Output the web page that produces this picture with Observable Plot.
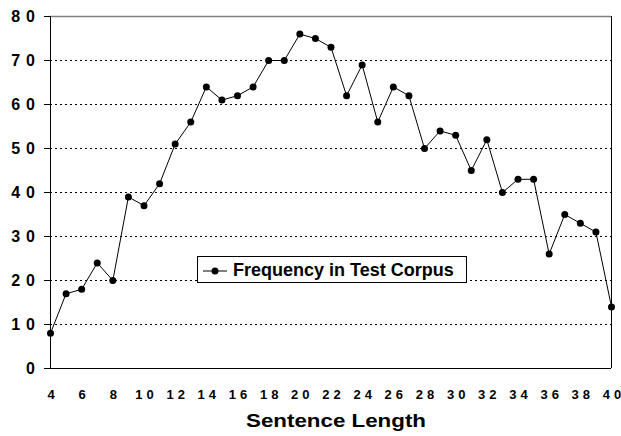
<!DOCTYPE html>
<html>
<head>
<meta charset="utf-8">
<script src="https://cdn.jsdelivr.net/npm/d3@7"></script>
<script src="https://cdn.jsdelivr.net/npm/@observablehq/plot@0.6"></script>
<style>
  html, body { margin: 0; padding: 0; background: #fff; }
  #wrap { position: relative; width: 621px; height: 436px; font-family: Arial, "Liberation Sans", sans-serif; }
  #wrap svg { display: block; }
  g[aria-label="y-axis tick label"] text { font-size: 16px; font-weight: bold; }
  g[aria-label="x-axis tick label"] text { font-size: 13px; font-weight: bold; }
  #legend {
    position: absolute; left: 197px; top: 256px; width: 270px; height: 27px;
    box-sizing: border-box; border: 1px solid #000; background: #fff;
  }
  #legend svg { position: absolute; left: 0; top: 0; }
  #legend span {
    position: absolute; left: 35px; top: 3px; font-size: 18px; font-weight: bold; line-height: 20px; white-space: nowrap; color: #000;
  }
</style>
</head>
<body>
<div id="wrap"></div>
<script>
// Data
const sentenceLength = [4,5,6,7,8,9,10,11,12,13,14,15,16,17,18,19,20,21,22,23,24,25,26,27,28,29,30,31,32,33,34,35,36,37,38,39,40];
const frequency = [8,17,18,24,20,39,37,42,51,56,64,61,62,64,70,70,76,75,73,62,69,56,64,62,50,54,53,45,52,40,43,43,26,35,33,31,14];
const xTicks = [4,6,8,10,12,14,16,18,20,22,24,26,28,30,32,34,36,38,40];
const yTicks = [0,10,20,30,40,50,60,70,80];
const gridLines = [10,20,30,40,50,60,70,80];
const seriesName = "Frequency in Test Corpus";
const xTitle = "Sentence Length";

const data = sentenceLength.map((x, i) => ({x, y: frequency[i]}));

const chart = Plot.plot({
  width: 621,
  height: 436,
  marginTop: 16,
  marginBottom: 68,
  marginLeft: 50,
  marginRight: 10,
  style: {fontFamily: "Arial, 'Liberation Sans', sans-serif", background: "#fff", color: "#000"},
  x: {domain: [4, 40]},
  y: {domain: [0, 80]},
  marks: [
    Plot.ruleY(gridLines, {stroke: "#000", strokeDasharray: "2,3", strokeWidth: 1}),
    Plot.ruleY([80], {stroke: "#808080", strokeWidth: 1.5}),
    Plot.ruleX([40], {stroke: "#000", strokeWidth: 1}),
    Plot.ruleX([4], {stroke: "#000", strokeWidth: 1}),
    Plot.ruleY([0], {stroke: "#000", strokeWidth: 1}),
    Plot.axisY({ticks: yTicks, tickSize: 6, tickPadding: 9.5, label: null, stroke: "#000"}),
    Plot.axisX({ticks: xTicks, tickSize: 0, tickPadding: 21, label: null, dx: 0.5}),
    Plot.text([xTitle], {frameAnchor: "bottom", dy: 58, dx: 5, fontSize: 18, fontWeight: "bold", fill: "#000"}),
    Plot.line(data, {x: "x", y: "y", stroke: "#000", strokeWidth: 1}),
    Plot.dot(data, {x: "x", y: "y", r: 3.5, fill: "#000", stroke: "none"})
  ]
});

const wrap = document.getElementById("wrap");
wrap.appendChild(chart);

// stretch the axis title horizontally like the original
d3.select(chart).selectAll("text").filter(function() { return this.textContent === xTitle; })
  .attr("textLength", 180).attr("lengthAdjust", "spacingAndGlyphs");

// widen the spacing between tick-label digits (as in the original) without trailing space
function spread(selector, gap) {
  d3.select(chart).selectAll(selector).each(function() {
    const n = this.textContent.length;
    if (n > 1) {
      const w = this.getComputedTextLength();
      d3.select(this).attr("textLength", w + gap * (n - 1)).attr("lengthAdjust", "spacing");
    }
  });
}
spread('g[aria-label="y-axis tick label"] text', 6);
spread('g[aria-label="x-axis tick label"] text', 4);

// legend
const legend = document.createElement("div");
legend.id = "legend";
wrap.appendChild(legend);
const lsvg = d3.select(legend).append("svg").attr("width", 36).attr("height", 25);
lsvg.append("line").attr("x1", 5).attr("x2", 29).attr("y1", 14).attr("y2", 14).attr("stroke", "#000").attr("stroke-width", 1);
lsvg.append("circle").attr("cx", 17).attr("cy", 14).attr("r", 3.5).attr("fill", "#000");
const span = document.createElement("span");
span.textContent = seriesName;
legend.appendChild(span);
</script>
</body>
</html>
